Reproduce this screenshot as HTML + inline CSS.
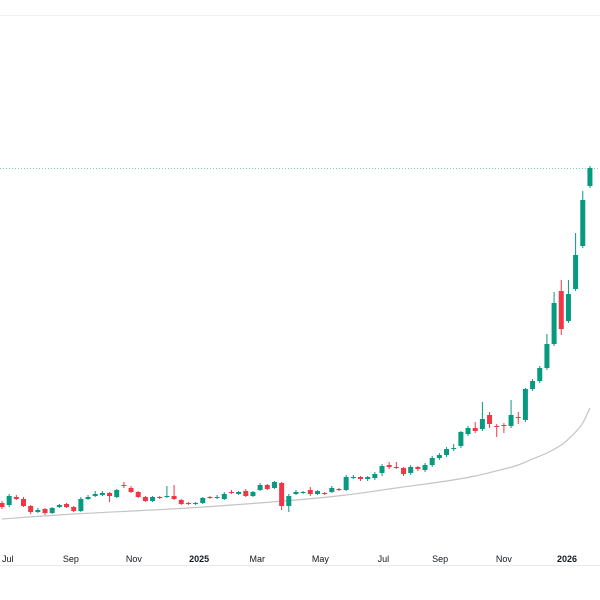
<!DOCTYPE html>
<html><head><meta charset="utf-8"><style>
html,body{margin:0;padding:0;background:#fff;width:600px;height:600px;overflow:hidden}
svg{display:block;font-family:"Liberation Sans",sans-serif}
</style></head><body>
<svg id="chart" width="600" height="600">
<line x1="0" y1="15.5" x2="600" y2="15.5" stroke="#f0f3fa"/>
<line x1="0" y1="565.5" x2="600" y2="565.5" stroke="#e6e9ef"/>
<g id="grid"></g><g id="ma"></g><g id="candles"></g><g id="xaxis"></g>
</svg>
<script>
const opens=[77,75,83,81,74,68,71,67,73,76,73,69,81,84,85,87,83,95,92,88,83,79,83,83,84,80,77,76,77,83,82,81,88,86,89,84,90,95,92,97,74,86,87,90,86,87,88,91,90,102,103,101,102,107,115,113,112,107,113,110,115,122,125,131,134,146,152,151,165,154,155,154,163,160,191,199,212,236,289,259,291,334,394];
const closes=[73,84,81,74,68,70,67,72,75,73,69,81,83,86,87,84,90,94,88,83,79,83,82,84,81,76,76,77,82,82,83,86,87,88,84,88,95,91,98,74,84,88,88,86,89,86,92,90,103,103,101,103,106,114,113,112,106,113,111,115,122,125,131,132,148,152,149,161,156,153,154,165,162,191,199,212,236,277,251,286,325,380,412];
const highs=[79,86,85,83,75,72,72,73,76,77,74,83,85,89,89,88,91,98,94,89,84,84,84,94,95,81,78,78,83,84,85,88,90,89,91,89,97,96,99,98,86,90,89,93,90,88,94,92,105,105,104,104,108,116,118,118,113,115,114,117,124,127,133,136,149,154,158,178,168,156,157,180,168,192,201,214,246,288,300,300,347,389,414];
const lows=[71,73,80,73,66,67,65,66,72,72,68,68,80,83,84,78,82,92,87,82,78,78,81,82,80,75,75,75,76,81,81,80,86,85,83,83,89,90,91,70,68,85,86,84,85,85,87,89,89,101,99,99,100,104,111,111,104,105,109,108,113,120,123,129,132,144,147,149,152,143,147,152,156,158,189,197,210,234,245,257,289,332,392];
const maIdx=[0,10,26,41,48,55,62,66,70,72,74,76,78,79,80,81,82];
const maVals=[61,66,72,80,85,92,99,104,111,115,121,127,135,141,148,157,172];
const tickLabels=["Jul","Sep","Nov","2025","Mar","May","Jul","Sep","Nov","2026"];
const tickIdx=[0.8,9.6,18.4,27.5,35.6,44.4,53.2,61.1,70,78.8];

const X=i=>2+7.17*i;
const Y=v=>580-v;
const NS="http://www.w3.org/2000/svg";
function mk(t,a,p){const e=document.createElementNS(NS,t);for(const k in a)e.setAttribute(k,a[k]);p.appendChild(e);return e;}

const last=closes[closes.length-1];
const pl=mk('line',{x1:0,x2:600,y1:Y(last)+0.5,y2:Y(last)+0.5,stroke:'#7fcfc0','stroke-dasharray':'1 2'},document.getElementById('grid'));



const pts=maIdx.map((ix,k)=>[X(ix),Y(maVals[k])]);
let d='M'+pts[0][0]+' '+pts[0][1];
for(let k=0;k<pts.length-1;k++){
  const p0=pts[k-1]||pts[k],p1=pts[k],p2=pts[k+1],p3=pts[k+2]||p2;
  const c1=[p1[0]+(p2[0]-p0[0])/6,p1[1]+(p2[1]-p0[1])/6];
  const c2=[p2[0]-(p3[0]-p1[0])/6,p2[1]-(p3[1]-p1[1])/6];
  d+=' C'+c1.join(' ')+' '+c2.join(' ')+' '+p2.join(' ');
}
const mal=mk('path',{d:d,fill:'none',stroke:'#c4c4c4','stroke-width':1.2},document.getElementById('ma'));



const cg=document.getElementById('candles');
opens.forEach((o,i)=>{
  const c=closes[i],up=c>=o,col=up?'#089981':'#f23645',x=X(i);
  const g=mk('g',{},cg);
  
  
  mk('line',{x1:x,x2:x,y1:Y(highs[i]),y2:Y(lows[i]),stroke:col,'stroke-width':1},g);
  const t=Y(Math.max(o,c)),b=Y(Math.min(o,c));
  mk('rect',{x:x-2.5,y:t,width:5,height:Math.max(1,b-t),fill:col},g);
});

const xa=document.getElementById('xaxis');
tickLabels.forEach((l,k)=>{
  const t=mk('text',{x:X(tickIdx[k]),y:562,'text-anchor':'middle','font-size':9,fill:'#131722','font-weight':(l.length===4?'bold':'normal')},xa);
  t.textContent=l;
  
  
});
</script>
</body></html>
